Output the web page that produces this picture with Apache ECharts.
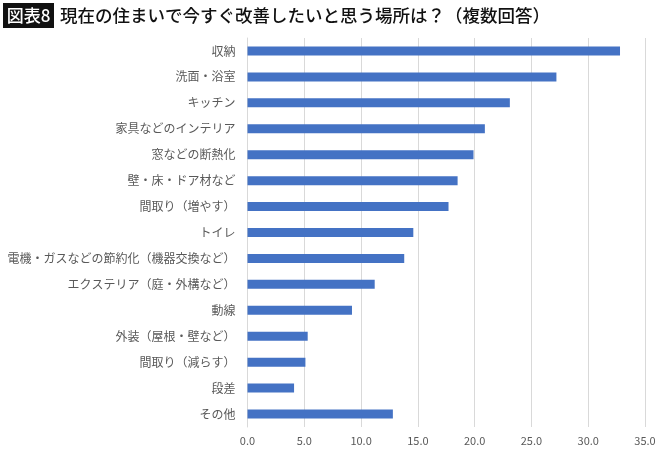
<!DOCTYPE html>
<html><head><meta charset="utf-8">
<script src="https://cdn.jsdelivr.net/npm/echarts@6/dist/echarts.min.js"></script>
<style>html,body{margin:0;padding:0;background:#fff}#c{width:670px;height:452px}</style>
</head><body><div id="c"></div>
<script>
const categories = ['収納','洗面・浴室','キッチン','家具などのインテリア','窓などの断熱化','壁・床・ドア材など','間取り（増やす）','トイレ','電機・ガスなどの節約化（機器交換など）','エクステリア（庭・外構など）','動線','外装（屋根・壁など）','間取り（減らす）','段差','その他'];
const values = [32.8,27.2,23.1,20.9,19.9,18.5,17.7,14.6,13.8,11.2,9.2,5.3,5.1,4.1,12.8];
const xTicks = {min:0, max:35, interval:5};
const titleBadge = '図表8';
const titleText = '現在の住まいで今すぐ改善したいと思う場所は？（複数回答）';

const chart = echarts.init(document.getElementById('c'));
const font = '"Noto Sans CJK JP","Noto Sans",sans-serif';
chart.setOption({
  animation:false,
  backgroundColor:'#fff',
  graphic:[
    {type:'rect', shape:{x:3,y:3,width:51,height:25}, style:{fill:'#111'}},
    {type:'text', x:28.5, y:15.5, style:{text:titleBadge, fill:'#fff', font:'500 17px '+font, align:'center', verticalAlign:'middle'}},
    {type:'text', x:60, y:15.5, style:{text:titleText, fill:'#111', font:'500 17.5px '+font, align:'left', verticalAlign:'middle'}}
  ],
  grid:{left:247.5, right:25, top:38, bottom:25, containLabel:false},
  xAxis:{type:'value', min:xTicks.min, max:xTicks.max, interval:xTicks.interval,
    axisLine:{show:false}, axisTick:{show:false},
    axisLabel:{formatter:v=>v.toFixed(1), color:'#595959', fontSize:11, fontFamily:font, margin:8},
    splitLine:{show:true, lineStyle:{color:'#d9d9d9', width:1}}},
  yAxis:{type:'category', data:categories, inverse:true,
    axisLine:{show:true, lineStyle:{color:'#d9d9d9'}}, axisTick:{show:false},
    axisLabel:{color:'#595959', fontSize:12, fontFamily:font, margin:12}},
  series:[{type:'bar', data:values, barWidth:9, itemStyle:{color:'#4472c4'}}]
});
</script></body></html>
